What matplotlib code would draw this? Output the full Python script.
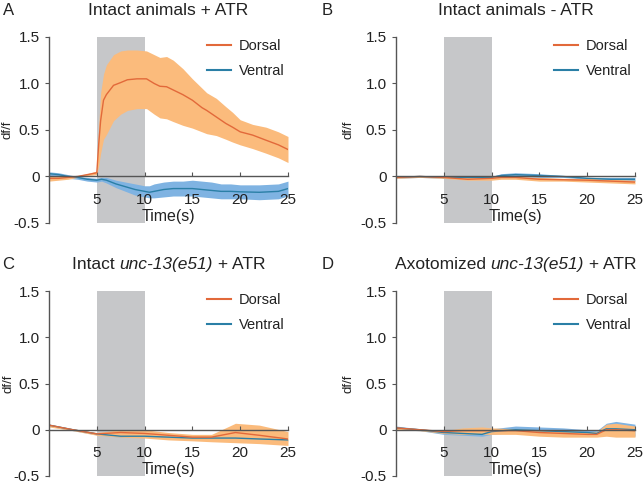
import matplotlib.pyplot as plt
import matplotlib.patches as mpatches

plt.rcParams['font.family'] = ['Liberation Sans', 'DejaVu Sans']

# ---- data ----
# Panel A: intact animals + ATR
a_dor_t = [0, 1, 2, 3, 4, 5, 5.2, 5.4, 5.7, 6, 6.75, 7.5, 8.2, 9.2, 10.2, 11, 11.6, 12.3, 13, 14, 15, 16, 16.5, 17.5, 18.5, 19.2, 20, 21.3, 22.7, 24, 25]
a_dor_m = [-0.02, -0.02, -0.01, 0.0, 0.02, 0.04, 0.35, 0.6, 0.82, 0.88, 0.98, 1.01, 1.04, 1.05, 1.05, 1.0, 0.97, 0.965, 0.93, 0.88, 0.82, 0.74, 0.71, 0.64, 0.57, 0.53, 0.48, 0.445, 0.39, 0.34, 0.29]
a_dor_hi = [0.01, 0.0, 0.0, 0.01, 0.03, 0.06, 0.55, 0.9, 1.1, 1.2, 1.31, 1.35, 1.36, 1.36, 1.35, 1.31, 1.28, 1.29, 1.25, 1.16, 1.05, 0.95, 0.9, 0.84, 0.75, 0.69, 0.61, 0.56, 0.53, 0.48, 0.43]
a_dor_lo = [-0.05, -0.04, -0.03, -0.01, 0.01, 0.02, 0.12, 0.25, 0.4, 0.45, 0.6, 0.67, 0.71, 0.73, 0.73, 0.67, 0.63, 0.62, 0.59, 0.55, 0.52, 0.48, 0.46, 0.44, 0.4, 0.37, 0.34, 0.3, 0.25, 0.2, 0.15]

a_ven_t = [0, 1, 2, 3, 4, 5, 5.5, 6, 7, 8, 9, 10, 10.5, 11, 12, 13, 14, 15, 16, 17, 18, 19, 20, 22, 24, 25]
a_ven_m = [0.03, 0.02, 0.0, -0.01, -0.03, -0.04, -0.03, -0.04, -0.08, -0.11, -0.14, -0.16, -0.17, -0.16, -0.14, -0.13, -0.13, -0.13, -0.14, -0.15, -0.16, -0.16, -0.165, -0.17, -0.16, -0.13]
a_ven_hi = [0.05, 0.04, 0.02, 0.0, -0.01, -0.02, -0.01, -0.01, -0.04, -0.06, -0.08, -0.1, -0.1, -0.08, -0.06, -0.05, -0.05, -0.04, -0.05, -0.06, -0.08, -0.08, -0.09, -0.09, -0.08, -0.05]
a_ven_lo = [0.01, 0.0, -0.02, -0.03, -0.05, -0.06, -0.05, -0.07, -0.12, -0.16, -0.2, -0.22, -0.23, -0.23, -0.22, -0.21, -0.21, -0.21, -0.22, -0.23, -0.24, -0.24, -0.24, -0.25, -0.24, -0.21]

# Panel B: intact animals - ATR
b_t = [0, 2.5, 5, 7.5, 10, 11, 12.5, 15, 17.5, 20, 22.5, 25]
b_dor_m = [-0.01, 0.0, -0.01, -0.03, -0.02, -0.01, -0.01, -0.03, -0.035, -0.04, -0.05, -0.06]
b_dor_hi = [0.0, 0.01, 0.0, -0.01, 0.0, 0.0, 0.0, -0.01, -0.02, -0.02, -0.03, -0.04]
b_dor_lo = [-0.02, -0.01, -0.02, -0.04, -0.04, -0.03, -0.03, -0.05, -0.05, -0.06, -0.07, -0.08]
b_ven_m = [-0.01, 0.0, -0.01, -0.01, -0.01, 0.01, 0.02, 0.01, 0.0, -0.02, -0.03, -0.03]
b_ven_hi = [0.0, 0.01, 0.0, 0.0, 0.0, 0.03, 0.04, 0.03, 0.01, -0.01, -0.01, -0.01]
b_ven_lo = [-0.02, -0.01, -0.02, -0.02, -0.02, 0.0, 0.0, -0.01, -0.01, -0.03, -0.04, -0.05]

# Panel C: intact unc-13(e51) + ATR
c_t = [0, 2.5, 5, 7.5, 10, 12.5, 15, 17, 19.5, 22, 25]
c_dor_m = [0.05, 0.0, -0.045, -0.03, -0.04, -0.06, -0.08, -0.08, -0.03, -0.06, -0.1]
c_dor_hi = [0.06, 0.01, -0.03, 0.0, 0.0, -0.03, -0.05, -0.05, 0.07, 0.05, -0.02]
c_dor_lo = [0.03, -0.01, -0.06, -0.08, -0.09, -0.11, -0.12, -0.13, -0.14, -0.15, -0.17]
c_ven_m = [0.05, 0.0, -0.045, -0.07, -0.07, -0.08, -0.09, -0.09, -0.09, -0.1, -0.11]
c_ven_hi = [0.06, 0.01, -0.035, -0.06, -0.06, -0.07, -0.08, -0.08, -0.08, -0.09, -0.1]
c_ven_lo = [0.04, -0.01, -0.055, -0.08, -0.08, -0.09, -0.1, -0.1, -0.1, -0.11, -0.12]

# Panel D: axotomized unc-13(e51) + ATR
d_t = [0, 2.5, 5, 7, 9, 10, 12.5, 15, 17.5, 20, 21, 22, 23, 25]
d_dor_m = [0.02, 0.0, -0.02, -0.01, -0.01, -0.01, -0.01, -0.03, -0.04, -0.05, -0.05, 0.0, 0.0, -0.01]
d_dor_hi = [0.03, 0.01, -0.01, 0.02, 0.03, 0.02, 0.01, 0.0, -0.01, -0.02, -0.02, 0.06, 0.07, 0.04]
d_dor_lo = [0.0, -0.01, -0.04, -0.05, -0.05, -0.05, -0.05, -0.07, -0.08, -0.08, -0.08, -0.07, -0.08, -0.08]
d_ven_m = [0.02, 0.0, -0.03, -0.04, -0.05, -0.02, 0.0, -0.01, -0.02, -0.03, -0.04, 0.01, 0.01, 0.0]
d_ven_hi = [0.04, 0.01, -0.01, -0.01, -0.01, 0.01, 0.04, 0.03, 0.02, 0.0, -0.01, 0.07, 0.09, 0.06]
d_ven_lo = [0.0, -0.01, -0.05, -0.06, -0.07, -0.05, -0.03, -0.04, -0.05, -0.06, -0.06, -0.05, -0.06, -0.07]

letters = ["A", "B", "C", "D"]
# titles as (text, italic) pieces
titles = [
    [("Intact animals + ATR", False)],
    [("Intact animals - ATR", False)],
    [("Intact ", False), ("unc-13(e51)", True), (" + ATR", False)],
    [("Axotomized ", False), ("unc-13(e51)", True), (" + ATR", False)],
]

panels = [
    (a_dor_t, a_dor_m, a_dor_hi, a_dor_lo, a_ven_t, a_ven_m, a_ven_hi, a_ven_lo),
    (b_t, b_dor_m, b_dor_hi, b_dor_lo, b_t, b_ven_m, b_ven_hi, b_ven_lo),
    (c_t, c_dor_m, c_dor_hi, c_dor_lo, c_t, c_ven_m, c_ven_hi, c_ven_lo),
    (d_t, d_dor_m, d_dor_hi, d_dor_lo, d_t, d_ven_m, d_ven_hi, d_ven_lo),
]

DOR_LINE = '#e2693a'
DOR_FILL = '#fbbb7c'
VEN_LINE = '#2a7fa6'
VEN_FILL = '#7fb3e2'
GRAY = '#c6c7c9'
SPINE = '#555555'
TEXT = '#222222'

fig = plt.figure(figsize=(6.44, 4.86), dpi=100)
renderer = fig.canvas.get_renderer()
rects = [
    [0.0761, 0.5412, 0.3711, 0.3827],
    [0.6149, 0.5412, 0.3711, 0.3827],
    [0.0761, 0.0206, 0.3711, 0.3806],
    [0.6149, 0.0206, 0.3711, 0.3806],
]
ylabel_x = [-0.15, -0.175, -0.145, -0.175]


def mixed_title(xc, y, pieces, size):
    # draw pieces once to measure, then place them centred on xc
    objs = [fig.text(0, y, s, fontsize=size, style='italic' if it else 'normal',
                     va='center', ha='left', color=TEXT) for s, it in pieces]
    widths = [o.get_window_extent(renderer).width / fig.bbox.width for o in objs]
    x = xc - sum(widths) / 2
    for o, w in zip(objs, widths):
        o.set_x(x)
        x += w


for i, rect in enumerate(rects):
    ax = fig.add_axes(rect)
    dt, dm, dh, dl, vt, vm, vh, vl = panels[i]
    ax.add_patch(mpatches.Rectangle((5, -0.5), 5, 2.0, color=GRAY, lw=0, zorder=0))
    if i in (0, 1):
        ax.fill_between(vt, vl, vh, color=VEN_FILL, lw=0, zorder=1)
        ax.fill_between(dt, dl, dh, color=DOR_FILL, lw=0, zorder=1.1)
    else:
        ax.fill_between(dt, dl, dh, color=DOR_FILL, lw=0, zorder=1)
        ax.fill_between(vt, vl, vh, color=VEN_FILL, lw=0, zorder=0.9)
    ax.plot(vt, vm, color=VEN_LINE, lw=1.0, zorder=2)
    ax.plot(dt, dm, color=DOR_LINE, lw=1.0, zorder=2.1)
    # legend handles
    h1, = ax.plot([], [], color=DOR_LINE, lw=1.5)
    h2, = ax.plot([], [], color=VEN_LINE, lw=1.5)
    ax.legend([h1, h2], ['Dorsal', 'Ventral'], loc='upper right', bbox_to_anchor=(1.04, 1.06),
              frameon=False, fontsize=10.5, handlelength=1.7, labelspacing=0.75,
              handletextpad=0.5, labelcolor=TEXT)

    ax.set_xlim(0, 25)
    ax.set_ylim(-0.5, 1.5)
    ax.set_xticks([5, 10, 15, 20, 25])
    ax.set_yticks([-0.5, 0, 0.5, 1.0, 1.5])
    ax.set_yticklabels(['-0.5', '0', '0.5', '1.0', '1.5'])
    ax.spines['top'].set_visible(False)
    ax.spines['right'].set_visible(False)
    ax.spines['bottom'].set_position(('data', 0))
    for s in ('left', 'bottom'):
        ax.spines[s].set_color(SPINE)
        ax.spines[s].set_linewidth(1.0)
        ax.spines[s].set_zorder(3)
    ax.tick_params(axis='x', direction='in', length=3, color=SPINE, labelsize=11,
                   pad=12, labelcolor=TEXT)
    ax.tick_params(axis='y', direction='out', length=3, color=SPINE, labelsize=11,
                   labelcolor=TEXT)
    ax.set_ylabel('df/f', fontsize=9.5, color=TEXT)
    ax.yaxis.set_label_coords(ylabel_x[i], 0.5)
    ax.text(12.5, -0.43, 'Time(s)', ha='center', va='center', fontsize=11.5, color=TEXT)
    ax.patch.set_visible(False)

    x0 = rect[0]
    top = rect[1] + rect[3]
    ty = top + 0.055
    fig.text(0.004 if i % 2 == 0 else 0.5, ty, letters[i], fontsize=12, va='center',
             ha='left', color=TEXT)
    mixed_title(x0 + rect[2] / 2, ty, titles[i], 12.5)

fig.savefig('out.png', dpi=100)
